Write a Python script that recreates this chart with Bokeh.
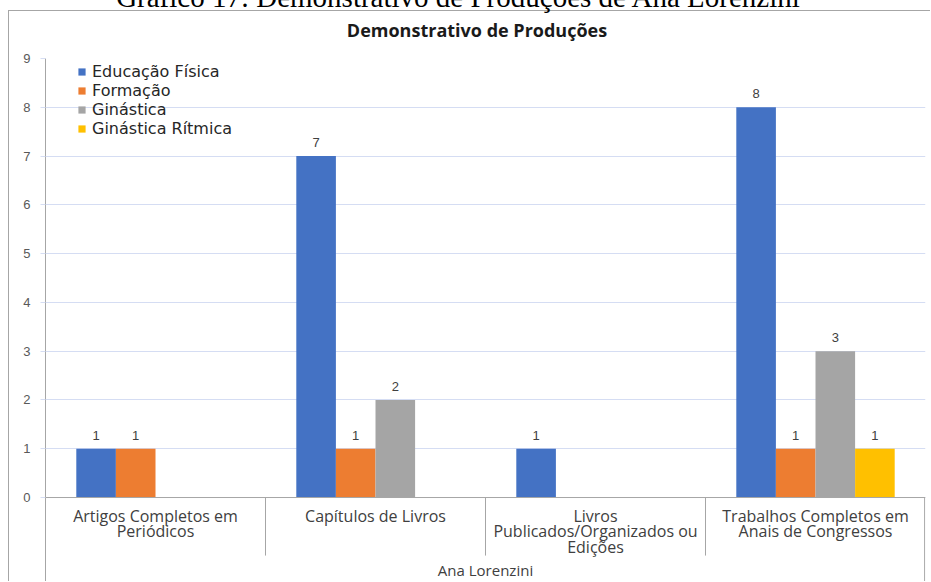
from bokeh.plotting import figure
from bokeh.models import FactorRange, Range1d, FixedTicker, ColumnDataSource, Span, Div
from bokeh.transform import dodge
from bokeh.core.properties import value
from bokeh.layouts import column
from bokeh.embed import file_html
from bokeh.resources import INLINE

# ---------------- data ----------------
categories = [
    "Artigos Completos em Periódicos",
    "Capítulos de Livros",
    "Livros Publicados/Organizados ou Edições",
    "Trabalhos Completos em Anais de Congressos",
]
category_labels = [
    "Artigos Completos em\nPeriódicos",
    "Capítulos de Livros",
    "Livros\nPublicados/Organizados ou\nEdições",
    "Trabalhos Completos em\nAnais de Congressos",
]
series_names = ["Educação Física", "Formação", "Ginástica", "Ginástica Rítmica"]
educacao_fisica = [1, 7, 1, 8]
formacao = [1, 1, 0, 1]
ginastica = [0, 2, 0, 3]
ginastica_ritmica = [0, 0, 0, 1]
y_ticks = [0, 1, 2, 3, 4, 5, 6, 7, 8, 9]
group_label = "Ana Lorenzini"
chart_title = "Demonstrativo de Produções"
caption = "Gráfico 17: Demonstrativo de Produções de Ana Lorenzini"

series_values = [educacao_fisica, formacao, ginastica, ginastica_ritmica]
colors = ["#4472C4", "#ED7D31", "#A5A5A5", "#FFC000"]
offsets = [-0.27, -0.09, 0.09, 0.27]

GRID = "#d5ddf3"
AXIS = "#a6a6a6"
TXT = "#404040"

p = figure(
    width=922, height=571,
    x_range=FactorRange(*categories, range_padding=0),
    y_range=Range1d(-1.742, 9),
    x_axis_location=None,
    output_backend="svg", toolbar_location=None,
    min_border_left=36, min_border_right=6, min_border_top=47, min_border_bottom=0,
)
p.margin = (10, 0, 0, 8)
p.styles = {"border-top": "1px solid #a6a6a6", "border-left": "1px solid #a6a6a6"}
p.outline_line_color = None
p.background_fill_color = "white"
p.border_fill_color = "white"

p.yaxis.ticker = FixedTicker(ticks=y_ticks)
p.yaxis.axis_line_color = AXIS
p.yaxis.major_tick_line_color = GRID
p.yaxis.major_tick_out = 5
p.yaxis.major_tick_in = 0
p.yaxis.minor_tick_line_color = None
p.yaxis.major_label_standoff = 10
p.yaxis.major_label_text_font = "Liberation Sans"
p.yaxis.major_label_text_font_size = "13px"
p.yaxis.major_label_text_color = "#595959"
p.ygrid.grid_line_color = GRID
p.xgrid.grid_line_color = None

# baseline (category axis)
p.add_layout(Span(location=0, dimension="width", line_color=AXIS, line_width=1))

# bars + labels
for name, vals, col, off in zip(series_names, series_values, colors, offsets):
    cats = [c for c, v in zip(categories, vals) if v > 0]
    vs = [v for v in vals if v > 0]
    src = ColumnDataSource(dict(cat=cats, val=vs, lab=[str(v) for v in vs]))
    p.vbar(x=dodge("cat", off, range=p.x_range), top="val", width=0.18, source=src,
           fill_color=col, line_color=None, legend_label=name)
    p.text(x=dodge("cat", off, range=p.x_range), y="val", text="lab", source=src,
           text_align="center", text_baseline="bottom", y_offset=-9,
           text_font=value("Liberation Sans"), text_font_size="13px", text_color=TXT)

# category labels
cat_src = ColumnDataSource(dict(cat=categories, lab=category_labels))
p.text(x="cat", y=0, text="lab", source=cat_src, text_align="center", text_baseline="top",
       y_offset=7, text_font=value("Open Sans"), text_font_size="16px",
       text_line_height=0.72, text_color=TXT)

# separators between categories
n = len(categories)
p.segment(x0=list(range(1, n)), x1=list(range(1, n)), y0=0, y1=-1.19,
          line_color=AXIS, line_width=1)
p.segment(x0=[n - 0.004], x1=[n - 0.004], y0=[0], y1=[-1.742], line_color=AXIS, line_width=1)

# group label
p.text(x=[n / 2], y=[0], text=[group_label], text_align="center", text_baseline="middle",
       y_offset=72, text_font=value("Open Sans"), text_font_size="15px", text_color=TXT)

# legend
lg = p.legend[0]
lg.location = (32, 444)
lg.padding = 0
lg.margin = 0
lg.spacing = 0
lg.border_line_color = None
lg.background_fill_alpha = 0
lg.glyph_width = 9
lg.glyph_height = 9
lg.label_height = 18
lg.label_standoff = 6
lg.label_text_font = "DejaVu Sans"
lg.label_text_font_size = "16px"
lg.label_text_color = "#262626"

cap = Div(text=caption, width=890, height=24,
          styles={"position": "absolute", "top": "-20px", "left": "8px",
                  "font-family": "Liberation Serif", "font-size": "29px",
                  "line-height": "24px", "text-align": "center", "white-space": "nowrap",
                  "color": "#000000"})

title_div = Div(text=chart_title, width=754, height=24,
                styles={"position": "absolute", "top": "13px", "left": "95px",
                        "font-family": "Open Sans", "font-size": "18px", "font-weight": "bold",
                        "line-height": "24px", "text-align": "center", "white-space": "nowrap",
                        "color": "#1a1a1a"})

layout = column(p, cap, title_div)
open("out.html", "w").write(file_html(layout, INLINE))
